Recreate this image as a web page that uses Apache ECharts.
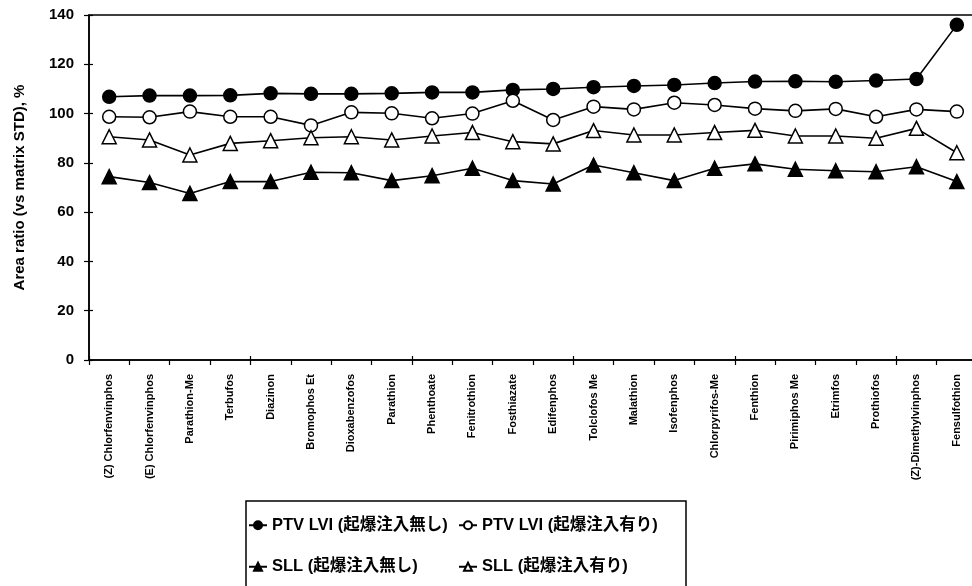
<!DOCTYPE html>
<html>
<head>
<meta charset="utf-8">
<script src="https://cdn.jsdelivr.net/npm/echarts@6/dist/echarts.min.js"></script>
<style>html,body{margin:0;padding:0;background:#fff}#c{width:972px;height:586px}</style>
</head>
<body>
<div id="c"></div>
<script>
const categories = ["(Z) Chlorfenvinphos","(E) Chlorfenvinphos","Parathion-Me","Terbufos","Diazinon","Bromophos Et","Dioxabenzofos","Parathion","Phenthoate","Fenitrothion","Fosthiazate","Edifenphos","Tolclofos Me","Malathion","Isofenphos","Chlorpyrifos-Me","Fenthion","Pirimiphos Me","Etrimfos","Prothiofos","(Z)-Dimethylvinphos","Fensulfothion"];
const ptvNoInj  = [106.8,107.3,107.3,107.4,108.2,108.0,108.0,108.2,108.6,108.6,109.6,110.0,110.7,111.2,111.6,112.4,113.0,113.1,112.9,113.4,114.0,136.0];
const ptvInj    = [98.7,98.5,100.8,98.7,98.7,95.2,100.5,100.1,98.1,100.0,105.2,97.4,102.8,101.7,104.4,103.5,102.0,101.1,101.9,98.7,101.7,100.8];
const sllNoInj  = [74.4,72.0,67.6,72.4,72.4,76.2,76.0,72.8,74.8,77.8,72.8,71.4,79.1,76.0,72.8,77.8,79.6,77.4,76.8,76.4,78.4,72.4];
const sllInj    = [90.6,89.3,83.2,87.9,89.0,90.2,90.6,89.3,90.9,92.3,88.6,87.7,93.1,91.3,91.3,92.3,93.2,90.9,90.9,90.0,94.0,84.1];
const seriesNames = ["PTV LVI (起爆注入無し)","PTV LVI (起爆注入有り)","SLL (起爆注入無し)","SLL (起爆注入有り)"];
const yTicks = {min:0, max:140, interval:20};
const yTitle = "Area ratio (vs matrix STD), %";

const FONT = '"Liberation Sans","Noto Sans CJK JP",Arial,sans-serif';
const chart = echarts.init(document.getElementById('c'));
function mk(name, data, symbol, filled, size){
  return {
    name, type:'line', data, xAxisIndex:0, yAxisIndex:0,
    symbol, symbolSize:size, showSymbol:true,
    lineStyle:{color:'#000', width:1.6},
    itemStyle:{color: filled ? '#000' : '#fff', borderColor:'#000', borderWidth:1.5},
    emphasis:{disabled:true}, animation:false, z:3
  };
}
const legendText = {color:'#000', fontSize:16.5, fontFamily:FONT, fontWeight:'bold'};
chart.setOption({
  animation:false,
  backgroundColor:'#fff',
  grid:{left:89, top:15, width:888, height:345, show:true, borderColor:'#000', borderWidth:1.5,
        containLabel:false, outerBoundsMode:'none'},
  xAxis:[{
    type:'category', data:categories, boundaryGap:true,
    axisLine:{lineStyle:{color:'#000', width:1.5}},
    axisTick:{show:true, length:5, lineStyle:{color:'#000', width:1.2}, alignWithLabel:false},
    axisLabel:{rotate:90, interval:0, color:'#000', fontSize:11, fontWeight:'bold', fontFamily:FONT, margin:14},
    splitLine:{show:false}
  },{
    type:'category', data:categories, boundaryGap:true, position:'bottom',
    axisLine:{show:false}, axisLabel:{show:false},
    axisTick:{show:true, inside:true, length:4, lineStyle:{color:'#000', width:1.2}}
  }],
  yAxis:[{
    type:'value', min:yTicks.min, max:yTicks.max, interval:yTicks.interval,
    name:yTitle, nameLocation:'middle', nameGap:62, nameRotate:90,
    nameTextStyle:{color:'#000', fontSize:15, fontFamily:FONT, fontWeight:'bold'},
    axisLine:{show:true, lineStyle:{color:'#000', width:1.5}},
    axisTick:{show:true, length:5, lineStyle:{color:'#000', width:1.2}},
    axisLabel:{color:'#000', fontSize:15, fontWeight:'bold', fontFamily:FONT, margin:15},
    splitLine:{show:false}
  },{
    type:'value', min:yTicks.min, max:yTicks.max, interval:yTicks.interval, position:'left',
    axisLine:{show:false}, axisLabel:{show:false}, splitLine:{show:false},
    axisTick:{show:true, inside:true, length:4, lineStyle:{color:'#000', width:1.2}}
  }],
  legend:[{
    data:[seriesNames[0], seriesNames[2]], orient:'vertical', left:248, top:517, padding:0,
    itemWidth:18, itemHeight:10, itemGap:25, textStyle:legendText, selectedMode:false
  },{
    data:[seriesNames[1], seriesNames[3]], orient:'vertical', left:458, top:517, padding:0,
    itemWidth:18, itemHeight:10, itemGap:25, textStyle:legendText, selectedMode:false
  }],
  graphic:[{type:'rect', shape:{x:246, y:501, width:440, height:120}, style:{fill:'none', stroke:'#000', lineWidth:1.5}, silent:true}],
  series:[
    mk(seriesNames[0], ptvNoInj, 'circle', true, 13),
    mk(seriesNames[1], ptvInj, 'circle', false, 13),
    mk(seriesNames[2], sllNoInj, 'triangle', true, 14),
    mk(seriesNames[3], sllInj, 'triangle', false, 14)
  ]
});
</script>
</body>
</html>
